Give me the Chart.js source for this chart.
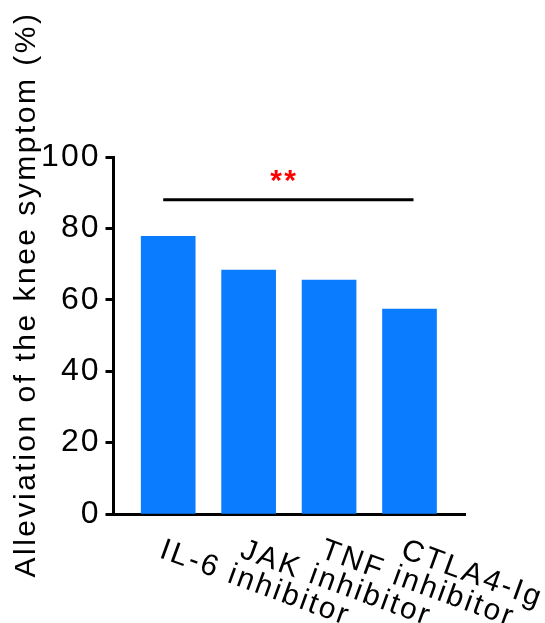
<!DOCTYPE html>
<html>
<head>
<meta charset="utf-8">
<script src="https://cdn.jsdelivr.net/npm/chart.js@4"></script>
<style>
  body { margin: 0; background: #fff; }
</style>
</head>
<body>
<canvas id="chart-knee" width="545" height="623"></canvas>
<script>
//CHART DATA
var categories = ["IL-6 inhibitor", "JAK inhibitor", "TNF inhibitor", "CTLA4-Ig"];
var alleviation = [77.8, 68.3, 65.5, 57.4];
var yTicks = [0, 20, 40, 60, 80, 100];
var sigPair = [0, 3];
var sigLevel = 88;
var sigLabel = "**";
var yTitle = "Alleviation of the knee symptom (%)";

var FONT = "'Liberation Sans', Arial, sans-serif";

//CUSTOM DRAWING (letter spacing, rotated labels, title, significance bar)
var extras = {
  id: "extras",
  beforeDraw: function (chart) {
    chart.ctx.letterSpacing = "2px";
  },
  afterDraw: function (chart) {
    var ctx = chart.ctx;
    var x = chart.scales.x;
    var y = chart.scales.y;
    ctx.save();
    ctx.letterSpacing = "2.5px";
    ctx.fillStyle = "#000";
    ctx.font = "30px " + FONT;

    //x labels, rotated clockwise
    categories.forEach(function (label, i) {
      ctx.save();
      ctx.translate(x.getPixelForValue(i) - 10, y.bottom + 43);
      ctx.rotate((20 * Math.PI) / 180);
      ctx.textAlign = "left";
      ctx.textBaseline = "alphabetic";
      ctx.fillText(label, 0, 0);
      ctx.restore();
    });

    //y title
    ctx.save();
    ctx.translate(35, 294.5);
    ctx.rotate(-Math.PI / 2);
    ctx.textAlign = "center";
    ctx.textBaseline = "alphabetic";
    ctx.fillText(yTitle, 0, 0);
    ctx.restore();

    //significance bar
    var x1 = x.getPixelForValue(sigPair[0]) - 5;
    var x2 = x.getPixelForValue(sigPair[1]) + 4;
    var ly = y.getPixelForValue(sigLevel);
    ctx.strokeStyle = "#000";
    ctx.lineWidth = 3;
    ctx.beginPath();
    ctx.moveTo(x1, ly);
    ctx.lineTo(x2, ly);
    ctx.stroke();
    ctx.fillStyle = "#ff0000";
    ctx.font = "bold 30px " + FONT;
    ctx.textAlign = "center";
    ctx.fillText(sigLabel, (x1 + x2) / 2 - 4, ly - 10);
    ctx.restore();
  },
};

//CHART CONFIG
var config = {
  type: "bar",
  data: {
    datasets: [
      {
        data: alleviation.map(function (v, i) {
          return { x: i, y: v };
        }),
        backgroundColor: "#0a7cff",
        borderWidth: 0,
        barThickness: 54,
      },
    ],
  },
  options: {
    responsive: false,
    animation: false,
    layout: { padding: { top: 157, right: 80, bottom: 109, left: 0 } },
    plugins: { legend: { display: false }, tooltip: { enabled: false } },
    scales: {
      x: {
        type: "linear",
        offset: false,
        min: -0.68,
        max: 3.69,
        grid: { display: false, offset: false },
        ticks: { display: false },
        border: { display: true, color: "#000", width: 3 },
        afterFit: function (scale) {
          scale.height = 0;
        },
      },
      y: {
        min: 0,
        max: 100,
        afterBuildTicks: function (scale) {
          scale.ticks = yTicks.map(function (v) {
            return { value: v };
          });
        },
        grid: {
          drawOnChartArea: false,
          drawTicks: true,
          tickLength: 8,
          tickWidth: 3,
          tickColor: "#000",
        },
        border: { display: true, color: "#000", width: 3 },
        ticks: {
          color: "#000",
          padding: 5,
          font: { family: FONT, size: 32 },
        },
        afterFit: function (scale) {
          scale.width = 113.5;
        },
      },
    },
  },
  plugins: [extras],
};

var ctx = document.getElementById("chart-knee").getContext("2d");
window.kneeChart = new Chart(ctx, config);
</script>
</body>
</html>
